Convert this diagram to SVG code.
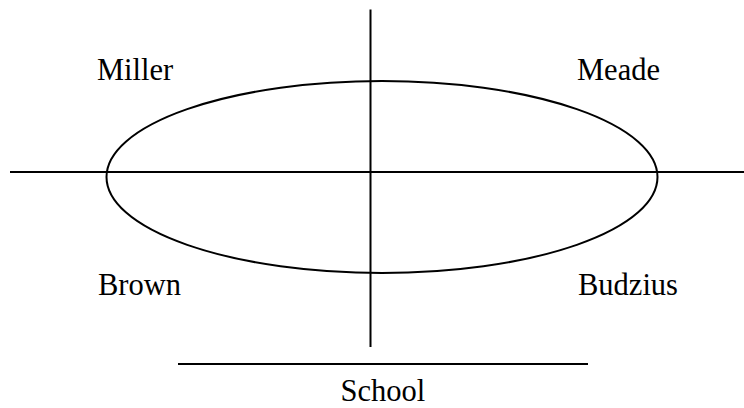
<svg xmlns="http://www.w3.org/2000/svg" width="744" height="408" viewBox="0 0 744 408">
<style>
.ln{stroke:#000;stroke-width:2;fill:none}
.lb{font-family:"Liberation Serif","Times New Roman",serif;font-size:30.5px;fill:#000}
</style>
<rect width="744" height="408" fill="#fff"/>
<g id="connectors">
<line class="ln" x1="370.5" y1="9.5" x2="370.5" y2="347"/>
<line class="ln" x1="10" y1="172" x2="744" y2="172"/>
<line class="ln" x1="178" y1="364" x2="588" y2="364"/>
</g>
<g id="ellipse"><ellipse class="ln" cx="382" cy="177" rx="275.5" ry="96"/></g>
<g id="miller"><text class="lb" x="97" y="80">Miller</text></g>
<g id="meade"><text class="lb" x="577" y="80">Meade</text></g>
<g id="brown"><text class="lb" x="98" y="295">Brown</text></g>
<g id="budzius"><text class="lb" x="578" y="295">Budzius</text></g>
<g id="school"><text class="lb" x="340.5" y="401">School</text></g>
</svg>
